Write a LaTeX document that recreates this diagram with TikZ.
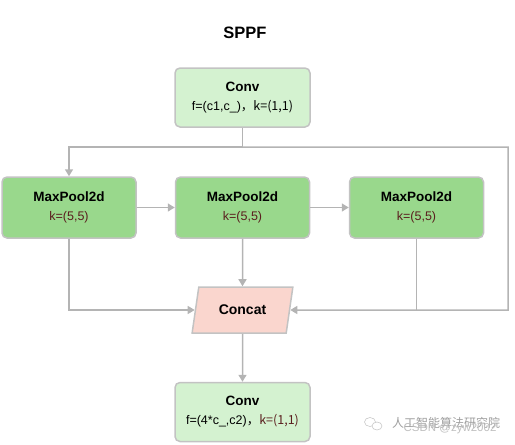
\documentclass[tikz,border=0pt]{standalone}
\usepackage{fontspec}
\setmainfont{Liberation Sans}
\newfontfamily\cjk{Noto Sans CJK SC}
\usepackage{tikz}
\definecolor{lg}{RGB}{212, 242, 208}
\definecolor{dg}{RGB}{153, 216, 140}
\definecolor{pk}{RGB}{250, 214, 206}
\definecolor{bd}{RGB}{195, 195, 195}
\definecolor{ln}{RGB}{180, 180, 180}
\definecolor{kr}{RGB}{90, 30, 30}
\newcommand{\boxhead}[1]{{\fontsize{13.5}{16}\selectfont\bfseries #1}}
\usetikzlibrary{positioning}
\usetikzlibrary{shapes.geometric}
\usetikzlibrary{arrows.meta}

\begin{document}
\begin{tikzpicture}[
convbox/.style={rectangle, rounded corners=5pt, draw=bd, line width=1.5pt, fill=lg, minimum width=135pt, minimum height=59pt, align=center, font=\fontsize{12.5}{19}\selectfont},
poolbox/.style={rectangle, rounded corners=5pt, draw=bd, line width=1.5pt, fill=dg, minimum width=134pt, minimum height=61pt, align=center, font=\fontsize{12.5}{19}\selectfont},
catbox/.style={trapezium, trapezium left angle=76, trapezium right angle=104, trapezium stretches=true, draw=bd, line width=1.5pt, fill=pk, minimum width=101pt, minimum height=46pt, font=\fontsize{14}{16}\selectfont\bfseries},
conn/.style={line width=1.5pt, color=ln},
arr/.style={conn, -{Triangle[width=8pt, length=7pt]}}]
\useasboundingbox (0pt, 0pt) rectangle (515pt, -445pt);
\node (title) at (245pt, -33pt) {\fontsize{16.5}{18}\selectfont\bfseries SPPF};
\node (conv1) [convbox] at (242.5pt, -97.5pt) {\boxhead{Conv}\\f=(c1,c\_)\cjk{，}k=(1,1)};
\node (pool1) [poolbox] at (69pt, -207.5pt) {\boxhead{MaxPool2d}\\\textcolor{kr}{k=(5,5)}};
\node (pool2) [poolbox] at (242.5pt, -207.5pt) {\boxhead{MaxPool2d}\\\textcolor{kr}{k=(5,5)}};
\node (pool3) [poolbox] at (416.5pt, -207.5pt) {\boxhead{MaxPool2d}\\\textcolor{kr}{k=(5,5)}};
\node (concat) [catbox] at (242.5pt, -310pt) {Concat};
\node (conv2) [convbox] at (242.5pt, -412pt) {\boxhead{Conv}\\f=(4*c\_,c2)\cjk{，}\textcolor{kr}{k=(1,1)}};
\coordinate (split) at (242.5pt, -147pt);
\coordinate (rside) at (508pt, -310pt);
\draw [conn] (conv1) -- (split);
\draw [arr] (split) -| (pool1);
\draw [arr] (split) -| (rside) -- (concat.east);
\draw [arr] (pool1) -- (pool2);
\draw [arr] (pool2) -- (pool3);
\draw [arr] (pool1) |- (concat.west);
\draw [arr] (pool2) -- (concat);
\draw [conn] (pool3) -- (pool3 |- concat);
\draw [arr] (concat) -- (conv2);
% watermark
\draw [gray!45, line width=0.6pt] (370pt, -422pt) ellipse (5.5pt and 4.5pt);
\draw [gray!45, line width=0.6pt, fill=white] (377pt, -426pt) ellipse (5pt and 4pt);
\node (wm1) [text=gray!75, font=\cjk\fontsize{12}{13}\selectfont] at (446pt, -423pt) {人工智能算法研究院};
\node (wm2) [text=gray!50, font=\fontsize{11.5}{12}\selectfont] at (450pt, -429pt) {CSDN @zyw2002};
\end{tikzpicture}
\end{document}
